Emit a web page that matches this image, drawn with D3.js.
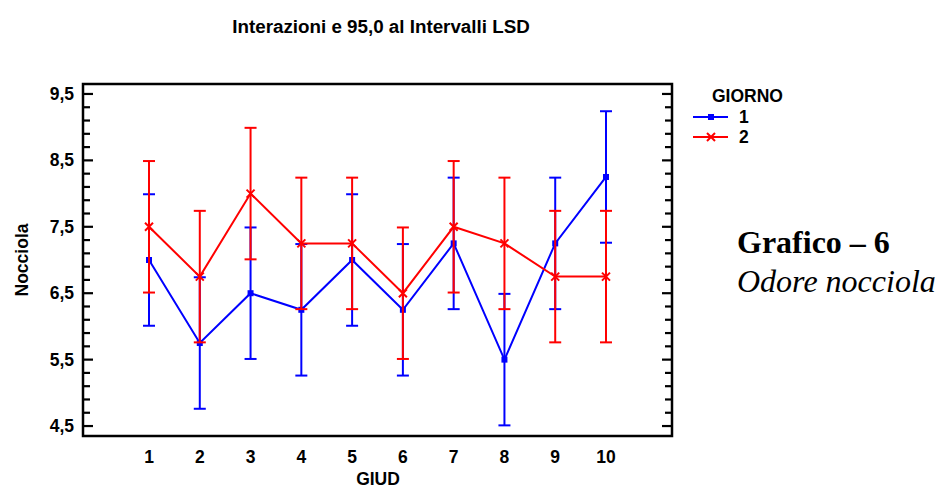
<!DOCTYPE html>
<html>
<head>
<meta charset="utf-8">
<script src="https://cdn.jsdelivr.net/npm/d3@7"></script>
<style>
  html, body { margin: 0; padding: 0; background: #fff; }
  svg { display: block; }
  .sans { font-family: "Liberation Sans", Arial, sans-serif; font-weight: bold; }
  .serif { font-family: "Liberation Serif", "Times New Roman", serif; }
</style>
</head>
<body>
<svg id="chart" width="937" height="488"></svg>
<script>
// Means per judge (GIUD) for the two days, with 95% LSD half-width
const giud = [1, 2, 3, 4, 5, 6, 7, 8, 9, 10];
const giorno1 = [7.0, 5.75, 6.5, 6.25, 7.0, 6.25, 7.25, 5.5, 7.25, 8.25];
const giorno2 = [7.5, 6.75, 8.0, 7.25, 7.25, 6.5, 7.5, 7.25, 6.75, 6.75];
const lsdHalf = 0.99;
const yTicks = [4.5, 5.5, 6.5, 7.5, 8.5, 9.5];
const yTickLabels = ["4,5", "5,5", "6,5", "7,5", "8,5", "9,5"];
const seriesNames = ["1", "2"];

const svg = d3.select("#chart");
const plotL = 83, plotR = 672, plotT = 84, plotB = 436;

const x = d3.scaleLinear().domain([-0.3, 11.3]).range([plotL, plotR]);
const y = d3.scaleLinear().domain([4.35, 9.65]).range([plotB, plotT]);

// Title
svg.append("text").attr("class", "sans")
  .attr("x", 381).attr("y", 33)
  .attr("text-anchor", "middle")
  .attr("font-size", 18.8)
  .text("Interazioni e 95,0 al Intervalli LSD");

// Minor/major ticks inside the frame on both sides
const minor = d3.range(4.5, 9.51, 0.2).map(v => +v.toFixed(1));
const tickG = svg.append("g").attr("stroke", "#000").attr("stroke-width", 2.2);
minor.forEach(v => {
  const isMajor = yTicks.some(t => Math.abs(t - v) < 1e-6);
  const len = isMajor ? 10 : 7;
  tickG.append("line").attr("x1", plotL).attr("x2", plotL + len).attr("y1", y(v)).attr("y2", y(v));
  tickG.append("line").attr("x1", plotR).attr("x2", plotR - len).attr("y1", y(v)).attr("y2", y(v));
});

// Y tick labels
svg.append("g").selectAll("text").data(yTicks).join("text").attr("class", "sans")
  .attr("x", 74).attr("y", d => y(d) + 6)
  .attr("text-anchor", "end")
  .attr("font-size", 17.5)
  .text((d, i) => yTickLabels[i]);

// X tick labels
svg.append("g").selectAll("text").data(giud).join("text").attr("class", "sans")
  .attr("x", d => x(d)).attr("y", 463)
  .attr("text-anchor", "middle")
  .attr("font-size", 17.5)
  .text(d => d);

// Axis titles
svg.append("text").attr("class", "sans")
  .attr("x", 378).attr("y", 485)
  .attr("text-anchor", "middle")
  .attr("font-size", 17.5)
  .text("GIUD");
svg.append("text").attr("class", "sans")
  .attr("transform", "translate(28,260) rotate(-90)")
  .attr("text-anchor", "middle")
  .attr("font-size", 17.5)
  .text("Nocciola");

// Series drawing
function drawSeries(values, color, marker) {
  const g = svg.append("g");
  const pts = giud.map((d, i) => ({ x: d, v: values[i] }));
  // error bars
  pts.forEach(p => {
    const cx = x(p.x), y1 = y(p.v + lsdHalf), y0 = y(p.v - lsdHalf);
    g.append("line").attr("x1", cx).attr("x2", cx).attr("y1", y1).attr("y2", y0)
      .attr("stroke", color).attr("stroke-width", 2);
    [y1, y0].forEach(yy => g.append("line")
      .attr("x1", cx - 6).attr("x2", cx + 6).attr("y1", yy).attr("y2", yy)
      .attr("stroke", color).attr("stroke-width", 2));
  });
  // connecting line
  g.append("path")
    .attr("d", d3.line().x(p => x(p.x)).y(p => y(p.v))(pts))
    .attr("fill", "none").attr("stroke", color).attr("stroke-width", 2);
  // markers
  pts.forEach(p => marker(g, x(p.x), y(p.v), color));
}

function squareMarker(g, cx, cy, color) {
  g.append("rect").attr("x", cx - 3).attr("y", cy - 3).attr("width", 6).attr("height", 6)
    .attr("fill", color);
}
function crossMarker(g, cx, cy, color) {
  g.append("path")
    .attr("d", `M${cx - 4},${cy - 4}L${cx + 4},${cy + 4}M${cx - 4},${cy + 4}L${cx + 4},${cy - 4}`)
    .attr("stroke", color).attr("stroke-width", 2).attr("fill", "none");
}

drawSeries(giorno1, "#0000ff", squareMarker);
drawSeries(giorno2, "#ff0000", crossMarker);

// Frame
svg.append("rect")
  .attr("x", plotL).attr("y", plotT).attr("width", plotR - plotL).attr("height", plotB - plotT)
  .attr("fill", "none").attr("stroke", "#000").attr("stroke-width", 2.5);

// Legend
const leg = svg.append("g");
leg.append("text").attr("class", "sans").attr("x", 712).attr("y", 102)
  .attr("font-size", 17.5).text("GIORNO");
const legItems = [
  { name: seriesNames[0], color: "#0000ff", marker: squareMarker, yy: 117 },
  { name: seriesNames[1], color: "#ff0000", marker: crossMarker, yy: 137 }
];
legItems.forEach(it => {
  leg.append("line").attr("x1", 693).attr("x2", 728).attr("y1", it.yy).attr("y2", it.yy)
    .attr("stroke", it.color).attr("stroke-width", 2);
  it.marker(leg, 711, it.yy, it.color);
  leg.append("text").attr("class", "sans").attr("x", 739).attr("y", it.yy + 6)
    .attr("font-size", 17.5).text(it.name);
});

// Caption
svg.append("text").attr("class", "serif").attr("x", 737).attr("y", 253)
  .attr("font-size", 32).style("font-weight", "bold")
  .text("Grafico – 6");
svg.append("text").attr("class", "serif").attr("x", 737).attr("y", 292)
  .attr("font-size", 32).style("font-style", "italic")
  .text("Odore nocciola");
</script>
</body>
</html>
